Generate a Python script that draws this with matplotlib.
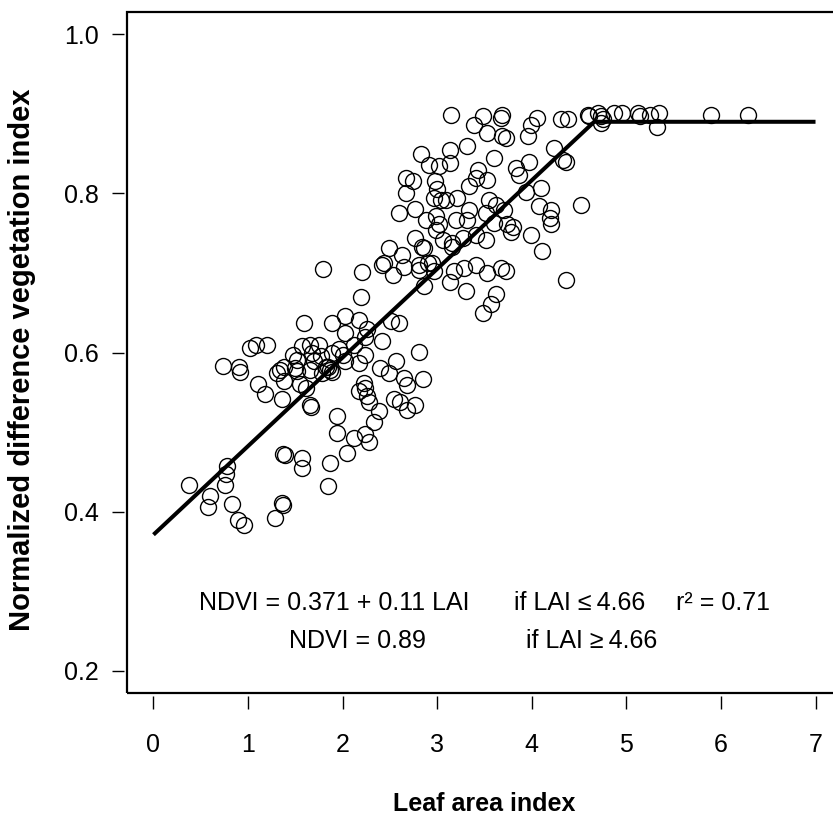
import matplotlib
matplotlib.use("Agg")
import matplotlib.pyplot as plt
from matplotlib import font_manager
from matplotlib.patches import Rectangle

# =========================================================
# Data: leaf area index vs NDVI
# =========================================================

lai = [
    0.38, 0.60, 0.58, 0.78, 0.77, 0.76, 0.83, 0.89, 0.96, 1.28,
    1.36, 1.37, 1.37, 1.39, 1.57, 1.57, 1.66, 1.67, 1.85, 1.87,
    1.94, 1.94, 0.74, 0.90, 0.92, 1.02, 1.08, 1.20, 1.10, 1.18,
    1.36, 1.31, 1.34, 1.38, 1.38, 1.48, 1.52, 1.52, 1.50, 1.57,
    1.55, 1.61, 1.66, 1.68, 1.66, 1.70, 1.75, 1.77, 1.78, 1.87,
    1.85, 1.89, 1.79, 1.59, 1.89, 2.03, 2.02, 1.89, 1.96, 2.03,
    2.21, 2.19, 2.17, 2.26, 2.24, 2.12, 2.24, 2.17, 2.00, 1.82,
    2.49, 2.63, 2.42, 2.53, 2.65, 2.86, 2.81, 2.95, 2.97, 3.14,
    2.86, 3.16, 2.51, 2.60, 2.42, 2.81, 2.56, 2.40, 2.49, 2.65,
    2.68, 2.85, 2.23, 2.24, 2.17, 2.26, 2.28, 2.54, 2.61, 2.68,
    2.77, 2.38, 2.33, 2.12, 2.24, 2.28, 2.05,
    3.15, 3.39, 3.48, 3.53, 3.67, 3.69, 3.60, 2.83, 3.13, 3.32,
    2.91, 3.02, 3.13, 2.67, 2.74, 2.67, 2.98, 3.00, 2.97, 3.04,
    3.09, 3.21, 3.34, 3.43, 3.53, 3.41, 3.55, 2.60, 2.77, 2.88,
    2.99, 3.02, 2.99, 3.20, 3.32, 3.34, 3.52, 3.62, 3.60, 3.74,
    2.76, 2.84, 3.06, 3.16, 3.27, 3.41, 3.52, 2.44, 2.81, 2.90,
    3.18, 3.28, 3.41, 3.53, 3.67, 3.73, 3.30, 3.62, 3.48, 3.57,
    3.69, 4.06, 3.99, 3.96, 3.73, 4.31, 4.38, 4.24, 4.33, 4.36,
    3.83, 3.97, 3.87, 3.94, 4.10, 4.08, 4.20, 4.19, 4.20, 4.52,
    3.71, 3.80, 3.78, 3.99, 4.11, 4.36,
    4.59, 4.61, 4.70, 4.73, 4.73, 4.75, 4.87, 4.95, 5.12, 5.14,
    5.25, 5.32, 5.35, 5.90, 6.29,
]

ndvi = [
    0.433, 0.419, 0.406, 0.457, 0.447, 0.434, 0.409, 0.390, 0.383, 0.392,
    0.411, 0.408, 0.473, 0.471, 0.467, 0.455, 0.534, 0.531, 0.432, 0.461,
    0.520, 0.499, 0.583, 0.582, 0.575, 0.606, 0.610, 0.610, 0.560, 0.548,
    0.542, 0.574, 0.578, 0.582, 0.564, 0.597, 0.591, 0.577, 0.580, 0.608,
    0.560, 0.555, 0.610, 0.599, 0.578, 0.589, 0.610, 0.596, 0.574, 0.578,
    0.582, 0.576, 0.705, 0.637, 0.637, 0.624, 0.646, 0.599, 0.604, 0.589,
    0.701, 0.670, 0.641, 0.629, 0.620, 0.610, 0.597, 0.587, 0.597, 0.582,
    0.731, 0.723, 0.710, 0.698, 0.708, 0.731, 0.704, 0.712, 0.702, 0.689,
    0.683, 0.733, 0.640, 0.637, 0.614, 0.601, 0.589, 0.580, 0.574, 0.568,
    0.559, 0.567, 0.562, 0.555, 0.551, 0.545, 0.538, 0.541, 0.538, 0.528,
    0.534, 0.526, 0.513, 0.492, 0.497, 0.488, 0.474,
    0.898, 0.886, 0.897, 0.876, 0.895, 0.872, 0.844, 0.849, 0.855, 0.859,
    0.836, 0.834, 0.838, 0.819, 0.815, 0.800, 0.815, 0.805, 0.794, 0.792,
    0.792, 0.794, 0.809, 0.830, 0.817, 0.819, 0.792, 0.775, 0.781, 0.767,
    0.771, 0.761, 0.754, 0.767, 0.767, 0.779, 0.775, 0.786, 0.763, 0.761,
    0.744, 0.733, 0.742, 0.738, 0.744, 0.748, 0.742, 0.712, 0.710, 0.712,
    0.702, 0.706, 0.710, 0.700, 0.706, 0.702, 0.677, 0.673, 0.650, 0.661,
    0.899, 0.895, 0.886, 0.872, 0.870, 0.893, 0.893, 0.857, 0.842, 0.840,
    0.832, 0.840, 0.823, 0.802, 0.807, 0.784, 0.779, 0.769, 0.761, 0.786,
    0.779, 0.758, 0.752, 0.748, 0.727, 0.691,
    0.899, 0.897, 0.901, 0.897, 0.888, 0.893, 0.901, 0.901, 0.901, 0.897,
    0.899, 0.884, 0.901, 0.899, 0.899,
]

# Segmented fit: linear up to LAI = 4.66, constant afterwards
fit_lai = [0.0, 4.66, 7.0]
fit_ndvi = [0.371, 0.89, 0.89]

x_ticks = [0, 1, 2, 3, 4, 5, 6, 7]
y_ticks = [0.2, 0.4, 0.6, 0.8, 1.0]

eq_line1 = ["NDVI = 0.371 + 0.11 LAI", "if LAI \u2264\u20094.66", "r\u00b2 = 0.71"]
eq_line2 = ["NDVI = 0.89", "if LAI \u2265\u20094.66"]

# =========================================================
# Fonts: the original uses a narrow Helvetica-like face
# =========================================================

_available = {f.name for f in font_manager.fontManager.ttflist}
if "Liberation Sans Narrow" in _available:
    TEXT_FAMILY = ["Liberation Sans Narrow", "Liberation Sans", "DejaVu Sans"]
    SCALE = 1.2
else:
    TEXT_FAMILY = ["Liberation Sans", "DejaVu Sans"]
    SCALE = 1.0

plt.rcParams["font.family"] = TEXT_FAMILY

fig = plt.figure(figsize=(8.33, 8.23), dpi=100)
# right edge of the box is cut off in the original
ax = fig.add_axes([127 / 833, 130 / 823, 715 / 833, 681 / 823])

# data
ax.plot(lai, ndvi, linestyle="none", marker="o", markersize=11.5,
        markerfacecolor="none", markeredgecolor="black",
        markeredgewidth=1.0, zorder=3)

ax.plot(fit_lai, fit_ndvi, color="black", linewidth=2.9,
        solid_capstyle="butt", zorder=4)

ax.set_xlim(-0.28, 7.28)
ax.set_ylim(0.172, 1.028)

# box drawn by hand, ticks sit a little away from it (R style)
for side in ["top", "right", "bottom", "left"]:
    ax.spines[side].set_visible(False)
ax.spines["bottom"].set_position(("outward", 2.5))
ax.spines["left"].set_position(("outward", 2.5))

ax.add_patch(Rectangle((0, 0), 1, 1, transform=ax.transAxes,
                       fill=False, edgecolor="black", linewidth=1.6,
                       clip_on=False, zorder=5))

ax.set_xticks(x_ticks)
ax.set_yticks(y_ticks)
ax.set_xticklabels([str(v) for v in x_ticks])
ax.set_yticklabels([f"{v:.1f}" for v in y_ticks])
ax.tick_params(axis="both", direction="out", length=9, width=1.0,
               labelsize=18 * SCALE, color="black")
ax.tick_params(axis="x", pad=17 if SCALE == 1.0 else 15)
ax.tick_params(axis="y", pad=9)

ax.set_xlabel("Leaf area index", fontsize=18 * SCALE, fontweight="bold")
ax.set_ylabel("Normalized difference vegetation index",
              fontsize=21, fontweight="bold",
              family=["Liberation Sans", "DejaVu Sans"])
ax.xaxis.set_label_coords(0.5, -0.163)
ax.xaxis.label.set_va("center")
ax.yaxis.set_label_coords(-0.147, 0.49)
ax.yaxis.label.set_va("center")

# equation text
for txt, x0 in zip(eq_line1, [0.48, 3.81, 5.53]):
    ax.text(x0, 0.2855, txt, fontsize=18 * SCALE, ha="left", va="center")
for txt, x0 in zip(eq_line2, [1.43, 3.94]):
    ax.text(x0, 0.2375, txt, fontsize=18 * SCALE, ha="left", va="center")

fig.savefig("out.png", dpi=100)
